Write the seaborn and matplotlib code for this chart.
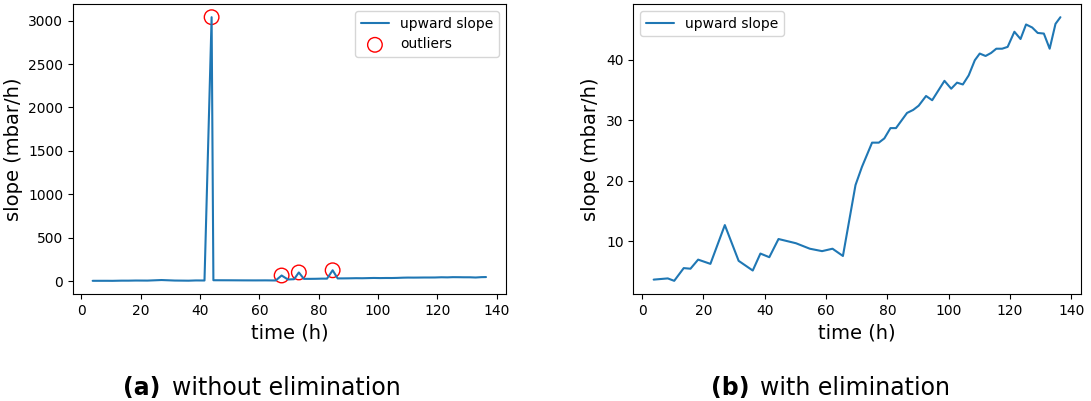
import matplotlib
matplotlib.use("Agg")
import matplotlib.pyplot as plt
import seaborn as sns
import pandas as pd

# slope after outlier elimination
time_h = [3.8, 8.4, 10.5, 13.6, 15.8, 18.3, 22.3, 27.0, 31.5, 36.1, 38.6, 41.5,
          44.5, 50.2, 54.7, 58.7, 62.1, 65.5, 69.6, 71.7, 75.0, 77.2, 79.0, 81.0,
          82.8, 86.4, 88.4, 90.2, 92.6, 94.6, 98.6, 100.8, 102.7, 104.6, 106.5,
          108.5, 110.1, 112.0, 113.8, 115.5, 117.4, 119.2, 121.4, 123.4, 125.2,
          127.2, 129.0, 131.0, 132.9, 134.8, 136.4]
slope = [3.7, 3.9, 3.5, 5.6, 5.5, 7.0, 6.3, 12.7, 6.8, 5.2, 8.0, 7.4,
         10.4, 9.7, 8.8, 8.4, 8.8, 7.6, 19.3, 22.3, 26.3, 26.3, 27.0, 28.7,
         28.7, 31.2, 31.7, 32.4, 34.0, 33.3, 36.5, 35.2, 36.2, 35.9, 37.4,
         39.9, 41.0, 40.6, 41.1, 41.8, 41.8, 42.1, 44.6, 43.4, 45.8,
         45.3, 44.4, 44.3, 41.8, 45.9, 47.0]

# outliers removed
outlier_time = [43.9, 67.5, 73.3, 84.7]
outlier_slope = [3040, 65, 100, 125]

clean = pd.DataFrame({"time": time_h, "slope": slope})
outliers = pd.DataFrame({"time": outlier_time, "slope": outlier_slope})
raw = pd.concat([clean, outliers]).sort_values("time").reset_index(drop=True)

sns.set_style("ticks", rc={
    "axes.edgecolor": "black",
    "axes.labelcolor": "black",
    "text.color": "black",
    "xtick.color": "black",
    "ytick.color": "black",
})
plt.rcParams["font.family"] = ["DejaVu Sans"]

fig = plt.figure(figsize=(10.91, 4.01), dpi=100)
ax1 = fig.add_axes([0.0669, 0.2668, 0.3966, 0.7232])
ax2 = fig.add_axes([0.5805, 0.2668, 0.4101, 0.7232])

blue = "#1f77b4"

# (a) without elimination
sns.lineplot(data=raw, x="time", y="slope", ax=ax1, color=blue, linewidth=1.5,
             estimator=None, label="upward slope")
sns.scatterplot(data=outliers, x="time", y="slope", ax=ax1, s=110,
                facecolors="none", edgecolor="red", linewidth=1.0,
                label="outliers")
ax1.set_xlabel("time (h)", fontsize=14)
ax1.set_ylabel("slope (mbar/h)", fontsize=14)
ax1.set_xticks(range(0, 141, 20))
ax1.legend(loc="upper right", fontsize=10)

# (b) with elimination
sns.lineplot(data=clean, x="time", y="slope", ax=ax2, color=blue, linewidth=1.5,
             estimator=None, label="upward slope")
ax2.set_xlabel("time (h)", fontsize=14)
ax2.set_ylabel("slope (mbar/h)", fontsize=14)
ax2.set_xticks(range(0, 141, 20))
ax2.legend(loc="upper left", fontsize=10)

for ax in (ax1, ax2):
    ax.tick_params(labelsize=10)
    for sp in ax.spines.values():
        sp.set_visible(True)

fig.text(123 / 1091, 0.015, "(a)", fontsize=17, fontweight="bold", va="baseline")
fig.text(172 / 1091, 0.015, "without elimination", fontsize=17, va="baseline")
fig.text(711 / 1091, 0.015, "(b)", fontsize=17, fontweight="bold", va="baseline")
fig.text(760 / 1091, 0.015, "with elimination", fontsize=17, va="baseline")

fig.savefig("out.png", dpi=100)
